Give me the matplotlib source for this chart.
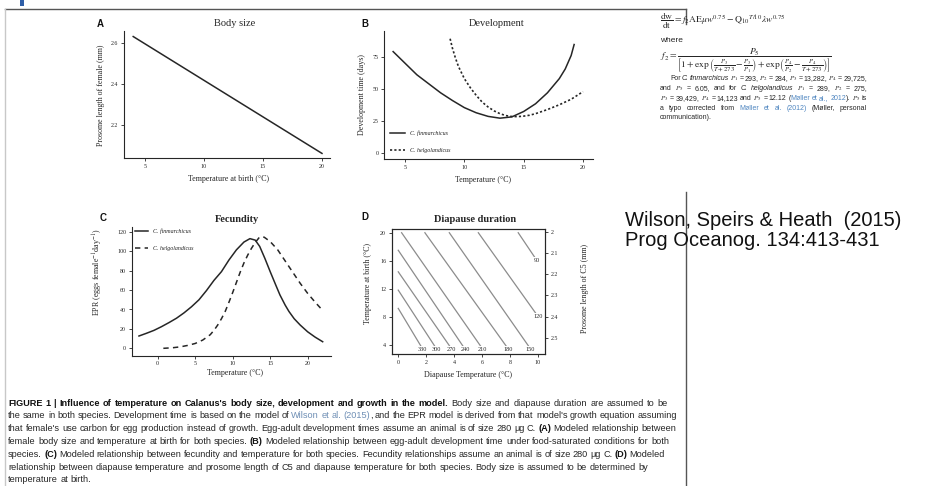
import matplotlib
matplotlib.use('Agg')
import matplotlib.pyplot as plt
from matplotlib.lines import Line2D
from matplotlib.patches import Rectangle

# ---------------- data ----------------
# A: body size
bs_temp = [4, 20]
bs_length = [2.63, 2.06]

# B: development time
dev_temp_fin = [4, 5, 6, 7, 8, 9, 10, 11, 12, 13, 14, 15, 16, 17, 18, 18.5, 19, 19.25]
dev_fin = [79, 70, 61, 54, 47, 41, 35.5, 31.5, 28.7, 27.3, 28.3, 32.5, 38.5, 47, 58, 65.5, 76, 84.5]
dev_temp_hel = [8.8, 9.0, 9.25, 9.5, 10, 10.5, 11, 11.5, 12, 12.5, 13, 13.5, 14, 14.5, 15, 15.5, 16, 17, 18, 19, 20]
dev_hel = [89, 81.5, 74, 67.5, 58, 51, 45, 39.8, 36, 33, 30.8, 29.3, 28.6, 28.5, 28.9, 29.6, 30.8, 34, 37.7, 42, 47.9]

# C: fecundity
fec_temp_fin = [-2.5, -1.5, -0.5, 0.5, 1.5, 2.5, 3.5, 4.5, 5.5, 6.5, 7.5, 8.5, 9.5, 10.5, 11.5, 12.3,
                13, 13.6, 14.3, 15, 15.7, 16.3, 17, 17.5, 18.2, 19, 20, 21, 22]
fec_fin = [12.7, 15.5, 18.5, 22.3, 26.5, 31, 36.5, 42.8, 50, 59.5, 70, 79, 91, 101.5, 109.5, 113,
           111.5, 105, 92.5, 79, 66, 55, 44.5, 38, 30.5, 24, 17, 11.5, 6.8]
fec_temp_hel = [0.75, 2, 3, 4, 5, 6, 7, 7.5, 8, 8.5, 9, 9.5, 10, 10.5, 11, 11.5, 12, 12.5, 13, 13.6,
                14.2, 15, 16, 17, 18, 19, 20, 21, 22]
fec_hel = [0, 0.6, 1.5, 3, 5, 8.5, 14, 18.5, 24, 30.5, 38, 47.5, 57.5, 68, 78.5, 88, 96, 103, 109,
           114.8, 114.5, 110, 101.5, 90, 78.5, 67, 56.6, 47.5, 39]

# D: diapause duration contours (days)
dia_levels = [90, 120, 150, 180, 210, 240, 270, 300, 330]
dia_x_start = [8.60, 5.74, 3.66, 1.91, 0.24, 0.0, 0.0, 0.0, 0.0]
dia_y_start = [20, 20, 20, 20, 20, 17.5, 14.43, 11.82, 9.22]
dia_x_end = [9.92, 10.0, 9.49, 7.89, 6.05, 4.78, 3.83, 2.75, 1.75]
dia_y_end = [16.1, 8.13, 3.43, 3.43, 3.43, 3.43, 3.43, 3.43, 3.43]
c5_ticks = [2, 2.1, 2.2, 2.3, 2.4, 2.5]
c5_ticklabels = ['2', '2.1', '2.2', '2.3', '2.4', '2.5']

# ---------------- setup ----------------
W, H = 934, 486
plt.rcParams['font.family'] = ['Liberation Serif', 'DejaVu Serif']
plt.rcParams['mathtext.fontset'] = 'stix'

fig = plt.figure(figsize=(W / 100, H / 100), dpi=100)
fig.patch.set_facecolor('white')
SANS = ['Liberation Sans', 'DejaVu Sans']
NARROW = ['Liberation Sans Narrow', 'Liberation Sans', 'DejaVu Sans']
INK = '#262626'


def axes_px(l, t, r, b):
    return fig.add_axes([l / W, 1 - b / H, (r - l) / W, (b - t) / H])


def ptext(x, y, s, **kw):
    return fig.text(x / W, 1 - y / H, s, **kw)


def pline(xs, ys, **kw):
    fig.add_artist(Line2D([x / W for x in xs], [1 - y / H for y in ys],
                          transform=fig.transFigure, **kw))


def style_ax(ax, box=False):
    for s in ['top', 'right']:
        ax.spines[s].set_visible(box)
    for s in ax.spines.values():
        s.set_linewidth(0.8)
        s.set_color(INK)
    ax.tick_params(direction='out', length=2.5, width=0.6, labelsize=4.3, pad=1.5, colors=INK)
    ax.set_facecolor('none')


def place_labels(ax, box, xl, xpos, yl, ypos, size=5.8):
    l, t, r, b = box
    ax.set_xlabel(xl, fontsize=size, color=INK)
    ax.xaxis.label.set_va('center')
    ax.xaxis.set_label_coords((xpos[0] - l) / (r - l), (b - xpos[1]) / (b - t))
    ax.set_ylabel(yl, fontsize=size, color=INK)
    ax.yaxis.label.set_va('center')
    ax.yaxis.set_label_coords((ypos[0] - l) / (r - l), (b - ypos[1]) / (b - t))


def panel_head(letter, lx, ly, title, tx, ty, bold=False):
    ptext(lx, ly, letter, family=SANS, fontweight='bold', fontsize=7, ha='center', va='center', color='#111')
    ptext(tx, ty, title, fontsize=7.5, ha='center', va='center', color=INK,
          fontweight='bold' if bold else 'normal')


# ---------------- frame ----------------
pline([5, 686], [9, 9], color='#555555', lw=1.0)
pline([5, 5], [9, 486], color='#c8c8c8', lw=1.0)
pline([686, 686], [9, 24], color='#555555', lw=1.0)
pline([686, 686], [192, 486], color='#555555', lw=1.0)
fig.add_artist(Rectangle((20 / W, 1 - 6 / H), 4 / W, 6 / H, transform=fig.transFigure,
                         color='#2f5fa8', lw=0))

# ---------------- panel A ----------------
boxA = (124, 31, 330, 158)
axA = axes_px(*boxA)
axA.plot(bs_temp, bs_length, color=INK, lw=1.1)
axA.set_xlim(3.22, 20.68)
axA.set_ylim(2.0376, 2.657)
axA.set_xticks([5, 10, 15, 20])
axA.set_yticks([2.2, 2.4, 2.6])
axA.set_yticklabels(['2.2', '2.4', '2.6'])
style_ax(axA)
place_labels(axA, boxA, 'Temperature at birth (°C)', (228, 179), 'Prosome length of female (mm)', (101, 95))
panel_head('A', 100, 24, 'Body size', 235, 24)

# ---------------- panel B ----------------
boxB = (384, 31, 593, 159)
axB = axes_px(*boxB)
axB.plot(dev_temp_fin, dev_fin, color=INK, lw=1.1, label='C. finmarchicus')
axB.plot(dev_temp_hel, dev_hel, color=INK, lw=1.2, ls=(0, (1.3, 1.3)), label='C. helgolandicus')
axB.set_xlim(3.23, 20.84)
axB.set_ylim(-4.4, 95)
axB.set_xticks([5, 10, 15, 20])
axB.set_yticks([0, 25, 50, 75])
style_ax(axB)
place_labels(axB, boxB, 'Temperature (°C)', (483, 180), 'Development time (days)', (362, 95))
legB = axB.legend(loc='upper left', bbox_to_anchor=((390 - 384) / 209, (159 - 130.2) / 128), frameon=False,
                  prop={'style': 'italic', 'size': 4.3}, handlelength=2.5, handletextpad=0.8,
                  labelspacing=2.0, borderpad=0, borderaxespad=0)
for t in legB.get_texts():
    t.set_color(INK)
panel_head('B', 365, 24, 'Development', 497, 24)

# ---------------- panel C ----------------
boxC = (131.7, 227, 330.7, 355.7)
axC = axes_px(*boxC)
axC.plot(fec_temp_fin, fec_fin, color=INK, lw=1.1, label='C. finmarchicus')
axC.plot(fec_temp_hel, fec_hel, color=INK, lw=1.1, ls=(0, (3.5, 2.8)), label='C. helgolandicus')
axC.set_xlim(-3.47, 23.07)
axC.set_ylim(-7.6, 125)
axC.set_xticks([0, 5, 10, 15, 20])
axC.set_yticks([0, 20, 40, 60, 80, 100, 120])
style_ax(axC)
place_labels(axC, boxC, 'Temperature (°C)', (235, 373), r'EPR (eggs female$^{-1}$day$^{-1}$)', (98, 272))
legC = axC.legend(loc='upper left', bbox_to_anchor=((135 - 131.7) / 199, (355.7 - 228.6) / 128.7), frameon=False,
                  prop={'style': 'italic', 'size': 4.3}, handlelength=2.2, handletextpad=0.8,
                  labelspacing=2.0, borderpad=0, borderaxespad=0)
for t in legC.get_texts():
    t.set_color(INK)
panel_head('C', 103, 218, 'Fecundity', 237, 220, bold=True)

# ---------------- panel D ----------------
boxD = (391.7, 229, 545, 354.3)
axD = axes_px(*boxD)
for lev, xs, ys, xe, ye in zip(dia_levels, dia_x_start, dia_y_start, dia_x_end, dia_y_end):
    axD.plot([xs, xe], [ys, ye], color='#8c8c8c', lw=0.9)
    axD.text(xe, ye, str(lev), fontsize=4.5, ha='center', va='center', color=INK,
             bbox=dict(facecolor='white', edgecolor='none', pad=0.3))
axD.set_xlim(-0.47, 10.52)
axD.set_ylim(2.68, 20.53)
axD.set_xticks([0, 2, 4, 6, 8, 10])
axD.set_yticks([4, 8, 12, 16, 20])
style_ax(axD, box=True)
place_labels(axD, boxD, 'Diapause Temperature (°C)', (468, 375), 'Temperature at birth (°C)', (368, 283))
axD2 = axD.twinx()
axD2.set_ylim(2.578, 1.987)
axD2.set_yticks(c5_ticks)
axD2.set_yticklabels(c5_ticklabels)
style_ax(axD2, box=True)
axD2.tick_params(direction='out', length=2.5, width=0.6, labelsize=4.3, pad=1.5, colors=INK)
axD2.set_ylabel('Prosome length of C5 (mm)', fontsize=5.8, color=INK)
axD2.yaxis.label.set_va('center')
axD2.yaxis.set_label_coords((585 - 391.7) / (545 - 391.7), (354.3 - 288) / (354.3 - 229))
panel_head('D', 365, 217, 'Diapause duration', 475, 219, bold=True)

# ---------------- text blocks ----------------
renderer = fig.canvas.get_renderer()


def split_words(runs):
    words = []
    new_word = True
    for text, st in runs:
        parts = text.split(' ')
        for i, p in enumerate(parts):
            if i > 0:
                new_word = True
            if p == '':
                continue
            if new_word or not words:
                words.append([(p, st)])
            else:
                words[-1].append((p, st))
            new_word = False
    return words


def make_piece(p, st, size, family):
    kw = dict(family=family, fontsize=size, va='baseline', ha='left', color=INK)
    kw.update(st)
    t = fig.text(0, 0, p, **kw)
    return t, t.get_window_extent(renderer).width


def natural_width(runs, size, family=SANS):
    words = split_words(runs)
    total = 0.0
    for w in words:
        for p, st in w:
            t, bw = make_piece(p, st, size, family)
            total += bw
            t.remove()
    return total + (len(words) - 1) * 0.28 * size * 100 / 72


def fit_size(lines, x0s, base, family=SANS, mode='median'):
    ratios = []
    for (runs, x1), x0 in zip(lines, x0s):
        if x1 is not None:
            ratios.append((x1 - x0) / natural_width(runs, base, family))
    ratios.sort()
    r = ratios[0] if mode == 'min' else ratios[len(ratios) // 2]
    return base * r


def draw_runs(runs, x0, ybase, size, x1=None, family=SANS):
    words = split_words(runs)
    placed = []
    total = 0.0
    for w in words:
        pieces = []
        ww = 0.0
        for p, st in w:
            t, bw = make_piece(p, st, size, family)
            pieces.append((t, bw))
            ww += bw
        placed.append((pieces, ww))
        total += ww
    space = 0.28 * size * 100 / 72
    if x1 is not None and len(placed) > 1:
        gap = (x1 - x0 - total) / (len(placed) - 1)
    else:
        gap = space
    x = x0
    for pieces, ww in placed:
        xx = x
        for t, bw in pieces:
            t.set_position((xx / W, 1 - ybase / H))
            xx += bw
        x += ww + gap


N = {}
B = {'fontweight': 'bold', 'color': '#111111'}
IT = {'style': 'italic'}
BLUE = {'color': '#4f86c0'}
LINK = {'color': '#6f8fb5'}

# equations
ptext(660, 21, r'$\dfrac{\mathrm{dw}}{\mathrm{dt}} = f_2\mathrm{AE}\mu w^{0.75} - \mathrm{Q}_{10}{}^{T/10}\lambda w^{0.75}$',
      fontsize=6.8, ha='left', va='center', color=INK)
ptext(660, 40.5, 'where', family=SANS, fontsize=6.0, ha='left', va='center', color=INK)
ptext(660, 60.5, r'$f_2 = \dfrac{P_5}{\left[1+\exp\left(\frac{P_3}{T+273}-\frac{P_3}{P_1}\right)+\exp\left(\frac{P_4}{P_2}-\frac{P_4}{T+273}\right)\right]}$',
      fontsize=6.8, ha='left', va='center', color=INK)

para_lines = [
    ([("For ", N), ("C. finmarchicus", IT), (" $P_1$ = 293, $P_2$ = 284, $P_3$ = 13,282, $P_4$ = 29,725,", N)], 867),
    ([("and $P_5$ = 6.05, and for ", N), ("C. helgolandicus", IT), (" $P_1$ = 289, $P_2$ = 275,", N)], 867),
    ([("$P_3$ = 39,429, $P_4$ = 14,123 and $P_5$ = 12.12 (", N), ("Møller et al., 2012", BLUE), ("). $P_5$ is", N)], 867),
    ([("a typo corrected from ", N), ("Møller et al. (2012)", BLUE), (" (Møller, personal", N)], 867),
    ([("communication).", N)], None),
]
para_x0 = [670, 660, 660, 660, 660]
PS = fit_size(para_lines, para_x0, 5.2, family=NARROW, mode='min') * 1.06
PS = min(PS, 6.6)
for i, ((runs, x1), x0) in enumerate(zip(para_lines, para_x0)):
    draw_runs(runs, x0, 80.5 + i * 9.7, PS, x1, family=NARROW)

# citation
ptext(625, 221, 'Wilson, Speirs & Heath  (2015)', family=SANS, fontsize=14.5, ha='left', va='center', color='#111')
ptext(625, 240, 'Prog Oceanog. 134:413-431', family=SANS, fontsize=14.5, ha='left', va='center', color='#111')

# caption
cap_lines = [
    ([("FIGURE 1 | Influence of temperature on Calanus's body size, development and growth in the model.", B),
      (" Body size and diapause duration are assumed to be", N)], 668),
    ([("the same in both species. Development time is based on the model of ", N), ("Wilson et al. (2015)", LINK),
      (", and the EPR model is derived from that model's growth equation assuming", N)], 677),
    ([("that female's use carbon for egg production instead of growth. Egg-adult development times assume an animal is of size 280 μg C. ", N),
      ("(A)", B), (" Modeled relationship between", N)], 676),
    ([("female body size and temperature at birth for both species. ", N), ("(B)", B),
      (" Modeled relationship between egg-adult development time under food-saturated conditions for both", N)], 669),
    ([("species. ", N), ("(C)", B),
      (" Modeled relationship between fecundity and temperature for both species. Fecundity relationships assume an animal is of size 280 μg C. ", N),
      ("(D)", B), (" Modeled", N)], 665),
    ([("relationship between diapause temperature and prosome length of C5 and diapause temperature for both species. Body size is assumed to be determined by", N)], 648),
    ([("temperature at birth.", N)], None),
]
CS = fit_size(cap_lines, [8] * len(cap_lines), 6.1)
for i, (runs, x1) in enumerate(cap_lines):
    draw_runs(runs, 8, 405.5 + i * 12.8, CS, x1)

fig.savefig('out.png', dpi=100, facecolor='white')
